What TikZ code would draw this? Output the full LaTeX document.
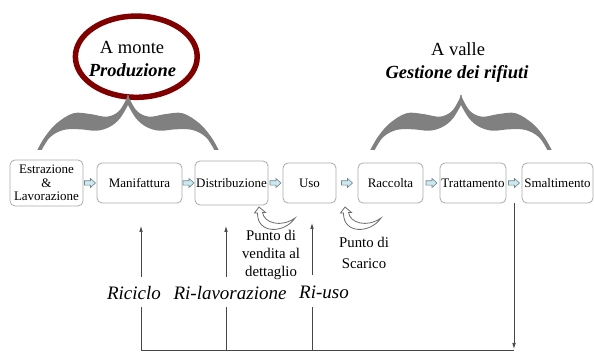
\documentclass[tikz,border=0pt]{standalone}
\usepackage{fontspec}
\setmainfont{Liberation Serif}
\usetikzlibrary{calc,arrows.meta}
\definecolor{myred}{RGB}{128,0,0}
\definecolor{bracegray}{RGB}{128,128,128}
\definecolor{boxgray}{RGB}{170,170,170}
\definecolor{linegray}{RGB}{70,70,70}
\definecolor{arrfill}{RGB}{205,232,238}
\definecolor{arrdraw}{RGB}{110,135,145}
\begin{document}
\begin{tikzpicture}[x=1pt,y=-1pt,
  stagebox/.style={draw=boxgray, line width=0.8pt, rounded corners=5pt, fill=white, align=center, inner sep=1pt, font=\fontsize{13}{13.5}\selectfont},
  bigtxt/.style={font=\fontsize{18.5}{20}\selectfont, inner sep=0pt, anchor=base},
  looplabel/.style={font=\fontsize{19}{20}\selectfont\itshape, inner sep=0pt, anchor=base},
  notetext/.style={font=\fontsize{14.8}{18}\selectfont, align=center, inner sep=0pt},
  conn/.style={draw=linegray, line width=0.7pt},
  arrowtip/.style={-{Latex[length=6pt,width=3.6pt]}},
  bigbrace/.pic={
    \foreach \s in {1,-1}{
      \fill[bracegray, xscale=\s] plot[smooth,tension=0.6] coordinates {(-90.7,55) (-83,41.7) (-71.3,28.3) (-54.7,18.3) (-38,19) (-21.3,21.7) (-9.7,16.7) (-3,6.7) (0,0)} -- (0.6,0) -- (0.6,10) -- plot[smooth,tension=0.6] coordinates {(0,10) (-8,23.3) (-18,31.7) (-31.3,35.7) (-48,34.3) (-64.7,35) (-78,42.3) (-86.3,55)} -- cycle;
    }
  },
  blockarrow/.pic={
    \filldraw[fill=arrfill, draw=arrdraw, line width=0.6pt] (-5.5,-2.2) -- (0.5,-2.2) -- (0.5,-4.5) -- (5.5,0) -- (0.5,4.5) -- (0.5,2.2) -- (-5.5,2.2) -- cycle;
  },
  uturn/.pic={
    \filldraw[fill=white, draw=bracegray!85!black, line width=0.8pt] (0,0) -- (6.5,5.5) -- (3.5,5.5) .. controls (5,16) and (22,21) .. (36,11) .. controls (25,27) and (-2,27) .. (-1.5,6) -- (-4.5,6) -- cycle;
  }
]
\useasboundingbox[fill=white] (0,0) rectangle (594,352);

% upstream ellipse
\draw[myred, line width=5.5pt] (136.3,56.7) ellipse [x radius=60.9pt, y radius=40.6pt];
\node[bigtxt] (monte) at (132,53.3) {A monte};
\node[bigtxt] (prod) at (132.5,77) {\textbf{\textit{Produzione}}};
\node[bigtxt] (valle) at (458,55.5) {A valle};
\node[bigtxt] (gest) at (457,78.3) {\textbf{\textit{Gestione dei rifiuti}}};

% braces
\pic at (128,95) {bigbrace};
\pic at (461,95) {bigbrace};

% stages
\node[stagebox, minimum width=73pt, minimum height=46pt] (estr) at (46.5,183) {Estrazione\\\&\\Lavorazione};
\node[stagebox, minimum width=85pt, minimum height=40pt] (manif) at (139.5,183) {Manifattura};
\node[stagebox, minimum width=73pt, minimum height=44pt] (distr) at (231.5,183) {Distribuzione};
\node[stagebox, minimum width=53pt, minimum height=40pt] (uso) at (309.5,183) {Uso};
\node[stagebox, minimum width=65pt, minimum height=40pt] (racc) at (390.5,183) {Raccolta};
\node[stagebox, minimum width=66pt, minimum height=40pt] (tratt) at (473,183) {Trattamento};
\node[stagebox, minimum width=71pt, minimum height=40pt] (smalt) at (557.5,183) {Smaltimento};

% small block arrows
\pic at ($(estr.east)!0.5!(manif.west)$) {blockarrow};
\pic at ($(manif.east)!0.5!(distr.west)$) {blockarrow};
\pic at ($(distr.east)!0.5!(uso.west)$) {blockarrow};
\pic at ($(uso.east)!0.5!(racc.west)$) {blockarrow};
\pic at ($(racc.east)!0.5!(tratt.west)$) {blockarrow};
\pic at ($(tratt.east)!0.5!(smalt.west)$) {blockarrow};

% curved arrows
\pic at (259,207) {uturn};
\pic at (345,207) {uturn};

% notes
\node[notetext] (vend) at (271,254.5) {Punto di\\vendita al\\dettaglio};
\node[notetext, font=\fontsize{14.8}{21}\selectfont] (scar) at (364,253) {Punto di\\Scarico};

% loop labels
\node[looplabel] (ric) at (134,300) {Riciclo};
\node[looplabel] (rilav) at (230,300) {Ri-lavorazione};
\node[looplabel] (riuso) at (324,298.5) {Ri-uso};

% loop connectors
\coordinate (ricTop) at (141,226);
\coordinate (ricUp) at (141,277);
\coordinate (ricDn) at (141,307);
\coordinate (ricB) at (141,350.5);
\coordinate (rilavTop) at (226,226);
\coordinate (rilavUp) at (226,277);
\coordinate (rilavDn) at (226,307);
\coordinate (riusoTop) at (312,223);
\coordinate (riusoUp) at (312,275);
\coordinate (riusoDn) at (312,307);
\coordinate (dnTop) at ($(tratt.south east)!0.5!(smalt.south west)$);
\coordinate (dnB) at ($(dnTop |- ricB)+(0,-1.5)$);
\coordinate (lineEnd) at (dnTop |- ricB);

\draw[conn, arrowtip] (ricUp) -- (ricTop);
\draw[conn, arrowtip] (rilavUp) -- (rilavTop);
\draw[conn, arrowtip] (riusoUp) -- (riusoTop);
\draw[conn] (ricDn) -- (ricB) -- (lineEnd);
\draw[conn] (rilavDn) -- (rilavDn |- ricB);
\draw[conn] (riusoDn) -- (riusoDn |- ricB);
\draw[conn, arrowtip] (dnTop) -- (dnB);
\end{tikzpicture}
\end{document}
